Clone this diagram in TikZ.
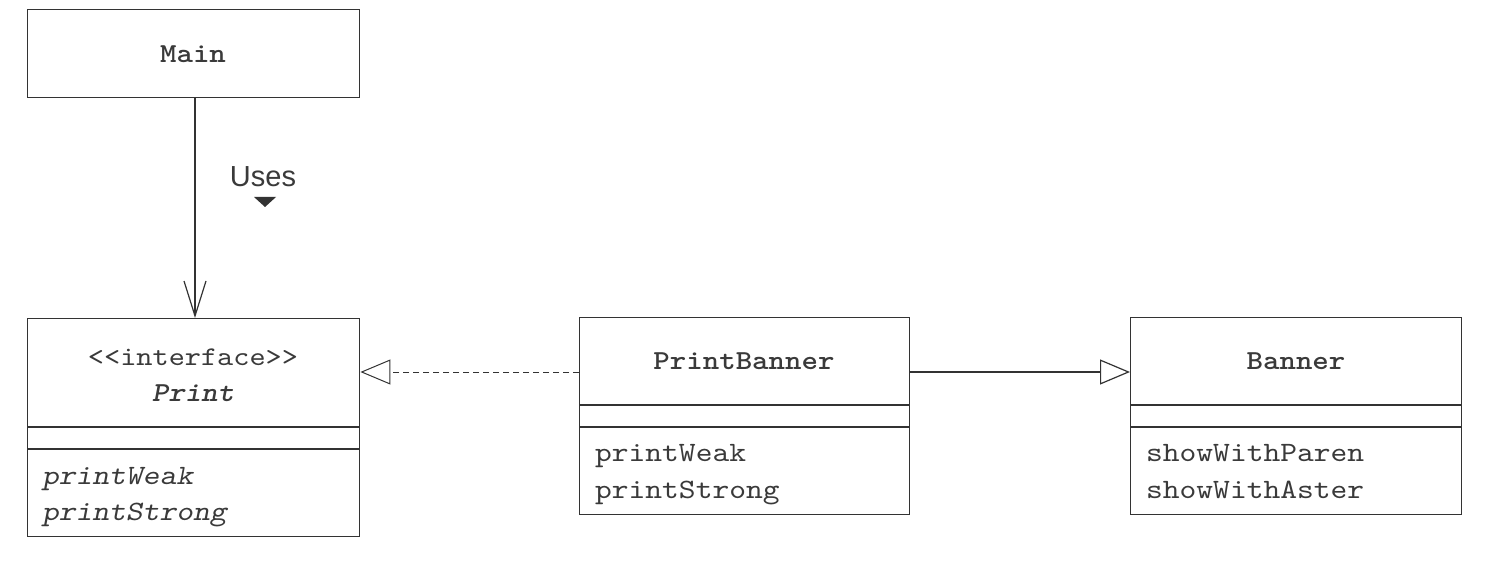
\documentclass[tikz,border=0pt]{standalone}
\usepackage{fontspec}
\setmainfont{Liberation Sans}
\setmonofont{lmmono10-regular.otf}[
  ItalicFont=lmmonoslant10-regular.otf,
  BoldFont=lmmonolt10-bold.otf,
  BoldItalicFont=lmmonolt10-boldoblique.otf,
  FakeStretch=1.14]
\usetikzlibrary{arrows.meta}
\definecolor{ink}{HTML}{333333}
\definecolor{txt}{HTML}{3A3A3A}
\begin{document}
\begin{tikzpicture}[x=1pt,y=-1pt,
  box/.style={draw=ink, line width=1.4pt, rectangle, inner sep=0pt, anchor=north west},
  ttl/.style={font=\fontsize{27.5}{30}\selectfont\ttfamily\bfseries, text=txt, anchor=base, inner sep=0pt},
  ster/.style={font=\fontsize{27}{30}\selectfont\ttfamily, text=txt, anchor=base, inner sep=0pt},
  mem/.style={font=\fontsize{28}{30}\selectfont\ttfamily, text=txt, anchor=base west, inner sep=0pt},
  imem/.style={font=\fontsize{28}{30}\selectfont\ttfamily\itshape, text=txt, anchor=base west, inner sep=0pt},
  divider/.style={draw=ink, line width=1.2pt},
  conn/.style={draw=ink, line width=1.2pt},
  tri/.style={-{Triangle[open, length=30pt, width=25pt]}},
  vee/.style={-{Straight Barb[length=35pt, width=22pt]}},
  label/.style={font=\fontsize{29}{30}\selectfont, text=txt, anchor=base, inner sep=0pt},
]
\useasboundingbox (0,0) rectangle (1488,564);
\fill[white] (0,0) rectangle (1488,564);

% Main
\node[box, minimum width=332pt, minimum height=88pt] (main) at (27,9) {};
\node[ttl] (mainname) at (193,63) {Main};

% Print interface
\node[box, minimum width=332pt, minimum height=218pt] (print) at (27,318) {};
\node[ster] (printster) at (193,365) {<\kern0pt<interface>\kern0pt>};
\node[ttl, font=\fontsize{27.5}{30}\selectfont\ttfamily\bfseries\itshape] (printname) at (193,401) {Print};
\draw[divider] (print.west |- 0,427) -- (print.east |- 0,427);
\draw[divider] (print.west |- 0,449) -- (print.east |- 0,449);
\node[imem] (pw1) at (42,484) {printWeak};
\node[imem] (ps1) at (42,520) {printStrong};

% PrintBanner
\node[box, minimum width=330pt, minimum height=197pt] (pb) at (579,317) {};
\node[ttl] (pbname) at (744,369) {PrintBanner};
\draw[divider] (pb.west |- 0,405) -- (pb.east |- 0,405);
\draw[divider] (pb.west |- 0,427) -- (pb.east |- 0,427);
\node[mem] (pw2) at (595,461) {printWeak};
\node[mem] (ps2) at (595,498) {printStrong};

% Banner
\node[box, minimum width=331pt, minimum height=197pt] (banner) at (1130,317) {};
\node[ttl] (bname) at (1296,369) {Banner};
\draw[divider] (banner.west |- 0,405) -- (banner.east |- 0,405);
\draw[divider] (banner.west |- 0,427) -- (banner.east |- 0,427);
\node[mem] (sp) at (1146,461) {showWithParen};
\node[mem] (sa) at (1146,498) {showWithAster};

% Connectors
\draw[conn, vee] (main.south -| 195,0) -- (print.north -| 195,0);
\node[label] (uses) at (263,187) {Uses};
\fill[ink] (254,197) -- (276,197) -- (265,207) -- cycle;

\draw[conn, line width=1pt, dash pattern=on 6pt off 4pt, tri] (pb.west |- 0,372) -- (print.east |- 0,372);
\draw[conn, tri] (pb.east |- 0,372) -- (banner.west |- 0,372);
\end{tikzpicture}
\end{document}
